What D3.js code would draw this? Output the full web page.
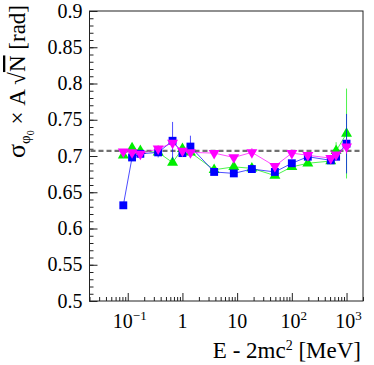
<!DOCTYPE html>
<html>
<head>
<meta charset="utf-8">
<script src="https://cdn.jsdelivr.net/npm/d3@7"></script>
<style>
  body { margin: 0; background: #fff; }
</style>
</head>
<body>
<svg id="chart" width="374" height="365"></svg>
<script>
// energies (MeV) above pair threshold
var energy = [0.083, 0.12, 0.17, 0.36, 0.66, 1.0, 1.4, 3.8, 8.7, 18.6, 49, 100, 196, 515, 645, 1000];

// sigma_phi0 * A * sqrt(N) for each sample
var blueVals = [0.632, 0.698, 0.703, 0.705, 0.721, 0.704, 0.713, 0.678, 0.676, 0.682, 0.678, 0.690, 0.699, 0.694, 0.699, 0.717];
var blueErr = [0.003, 0.004, 0.003, 0.007, 0.026, 0.005, 0.015, 0.003, 0.003, 0.003, 0.003, 0.003, 0.003, 0.003, 0.003, 0.041];

var greenVals = [0.701, 0.711, 0.707, 0.705, 0.691, 0.710, 0.705, 0.681, 0.685, 0.683, 0.673, 0.685, 0.690, 0.693, 0.707, 0.731];
var greenErr = [0.003, 0.003, 0.003, 0.003, 0.003, 0.003, 0.003, 0.003, 0.003, 0.003, 0.003, 0.003, 0.003, 0.003, 0.012, 0.062];

var magentaVals = [0.706, 0.705, 0.703, 0.710, 0.718, 0.707, 0.705, 0.704, 0.698, 0.705, 0.686, 0.704, 0.701, 0.697, 0.702, 0.713];
var magentaErr = [0.003, 0.003, 0.003, 0.005, 0.004, 0.003, 0.003, 0.003, 0.003, 0.006, 0.003, 0.005, 0.003, 0.003, 0.003, 0.010];

var refLevel = 0.707;

var yMajor = [0.5, 0.55, 0.6, 0.65, 0.7, 0.75, 0.8, 0.85, 0.9];
var yLabels = ["0.5", "0.55", "0.6", "0.65", "0.7", "0.75", "0.8", "0.85", "0.9"];
var xMajor = [0.1, 1, 10, 100, 1000];
var xBase = ["10", "1", "10", "10", "10"];
var xExp = ["\u22121", "", "", "2", "3"];

var serif = "'Liberation Serif', 'Times New Roman', Times, serif";

var svg = d3.select("#chart").attr("font-family", serif);
var padL = 89.5, padR = 363, padT = 11, padB = 301;

var x = d3.scaleLog().domain([0.02, 2000]).range([padL, padR]);
var y = d3.scaleLinear().domain([0.5, 0.9]).range([padB, padT]);

// minor ticks
var yMinor = d3.range(50, 91).map(d => d / 100);
var xMinor = [];
[0.01, 0.1, 1, 10, 100, 1000].forEach(dec => {
    for (var k = 2; k <= 9; k++) {
        var v = dec * k;
        if (v >= 0.02 && v <= 2000) xMinor.push(v);
    }
});

// Y axis ticks (inward)
var yAxisMinor = svg.append("g").attr("transform", "translate(" + padL + ",0)")
    .call(d3.axisLeft(y).tickValues(yMinor).tickSize(-4).tickFormat(""));
var yAxisMajor = svg.append("g").attr("transform", "translate(" + padL + ",0)")
    .call(d3.axisLeft(y).tickValues(yMajor).tickSize(-8).tickFormat(""));

// X axis ticks (inward)
var xAxisMinor = svg.append("g").attr("transform", "translate(0," + padB + ")")
    .call(d3.axisBottom(x).tickValues(xMinor).tickSize(-4).tickFormat(""));
var xAxisMajor = svg.append("g").attr("transform", "translate(0," + padB + ")")
    .call(d3.axisBottom(x).tickValues(xMajor).tickSize(-8).tickFormat(""));

[yAxisMinor, yAxisMajor, xAxisMinor, xAxisMajor].forEach(g => {
    g.select(".domain").remove();
    g.selectAll("line").attr("stroke", "#222").attr("stroke-width", 1);
});

// frame
svg.append("rect")
    .attr("x", padL).attr("y", padT)
    .attr("width", padR - padL).attr("height", padB - padT)
    .attr("fill", "none").attr("stroke", "#222").attr("stroke-width", 1);

// y tick labels
svg.selectAll(".ylab").data(yMajor).enter().append("text")
    .attr("x", padL - 7)
    .attr("y", d => y(d) + 6.5)
    .attr("text-anchor", "end")
    .attr("font-family", serif)
    .attr("font-size", 20)
    .text((d, i) => yLabels[i]);

// x tick labels
xMajor.forEach((v, i) => {
    var t = svg.append("text")
        .attr("x", x(v) + (xExp[i] != "" ? 2 : 0))
        .attr("y", 328)
        .attr("text-anchor", "middle")
        .attr("font-family", serif)
        .attr("font-size", 20);
    t.append("tspan").text(xBase[i]);
    if (xExp[i] != "") {
        t.append("tspan").attr("dy", -8).attr("font-size", 13).text(xExp[i]);
    }
});

// x title
var xt = svg.append("text")
    .attr("x", 361).attr("y", 358)
    .attr("text-anchor", "end")
    .attr("font-family", serif)
    .attr("font-size", 23);
xt.append("tspan").text("E - 2mc");
xt.append("tspan").attr("dy", -8).attr("font-size", 14).text("2");
xt.append("tspan").attr("dy", 8).text(" [MeV]");

// y title (rotated)
var yt = svg.append("text")
    .attr("transform", "translate(25,5) rotate(-90)")
    .attr("text-anchor", "end")
    .attr("font-family", serif)
    .attr("font-size", 23);
yt.append("tspan").attr("font-size", 26).text("\u03c3");
yt.append("tspan").attr("dy", 5).attr("font-size", 15).text("\u03c6");
yt.append("tspan").attr("dy", 4).attr("font-size", 10).text("0");
yt.append("tspan").attr("dy", -9).text(" \u00d7 A ");
yt.append("tspan").text("\u221a");
yt.append("tspan").attr("text-decoration", "overline").text("N");
yt.append("tspan").text(" [rad]");

// reference line
svg.append("line")
    .attr("x1", padL + 1).attr("x2", padR - 1)
    .attr("y1", y(refLevel)).attr("y2", y(refLevel))
    .attr("stroke", "#707070").attr("stroke-width", 2.2)
    .attr("stroke-dasharray", "5,3");

// series
var series = [
    { vals: greenVals, err: greenErr, color: "#00ee00", shape: "tri" },
    { vals: blueVals, err: blueErr, color: "#0000ff", shape: "square" },
    { vals: magentaVals, err: magentaErr, color: "#ff00ff", shape: "itri" }
];

var line = d3.line().x(d => x(d[0])).y(d => y(d[1]));

series.forEach(s => {
    var pts = energy.map((e, i) => [e, s.vals[i], s.err[i]]);
    var g = svg.append("g");

    g.append("path")
        .attr("d", line(pts))
        .attr("fill", "none")
        .attr("stroke", s.color)
        .attr("stroke-opacity", 0.7)
        .attr("stroke-width", 1);

    g.selectAll(".err").data(pts).enter().append("line")
        .attr("x1", d => x(d[0])).attr("x2", d => x(d[0]))
        .attr("y1", d => y(d[1] - d[2])).attr("y2", d => y(d[1] + d[2]))
        .attr("stroke", s.color)
        .attr("stroke-opacity", 0.7)
        .attr("stroke-width", 1);

    var sym;
    if (s.shape == "square") sym = d3.symbol().type(d3.symbolSquare).size(62);
    else sym = d3.symbol().type(d3.symbolTriangle).size(52);

    g.selectAll(".pt").data(pts).enter().append("path")
        .attr("d", sym)
        .attr("transform", d => "translate(" + x(d[0]) + "," + y(d[1]) + ")" + (s.shape == "itri" ? " rotate(180)" : ""))
        .attr("fill", s.color);
});
</script>
</body>
</html>
